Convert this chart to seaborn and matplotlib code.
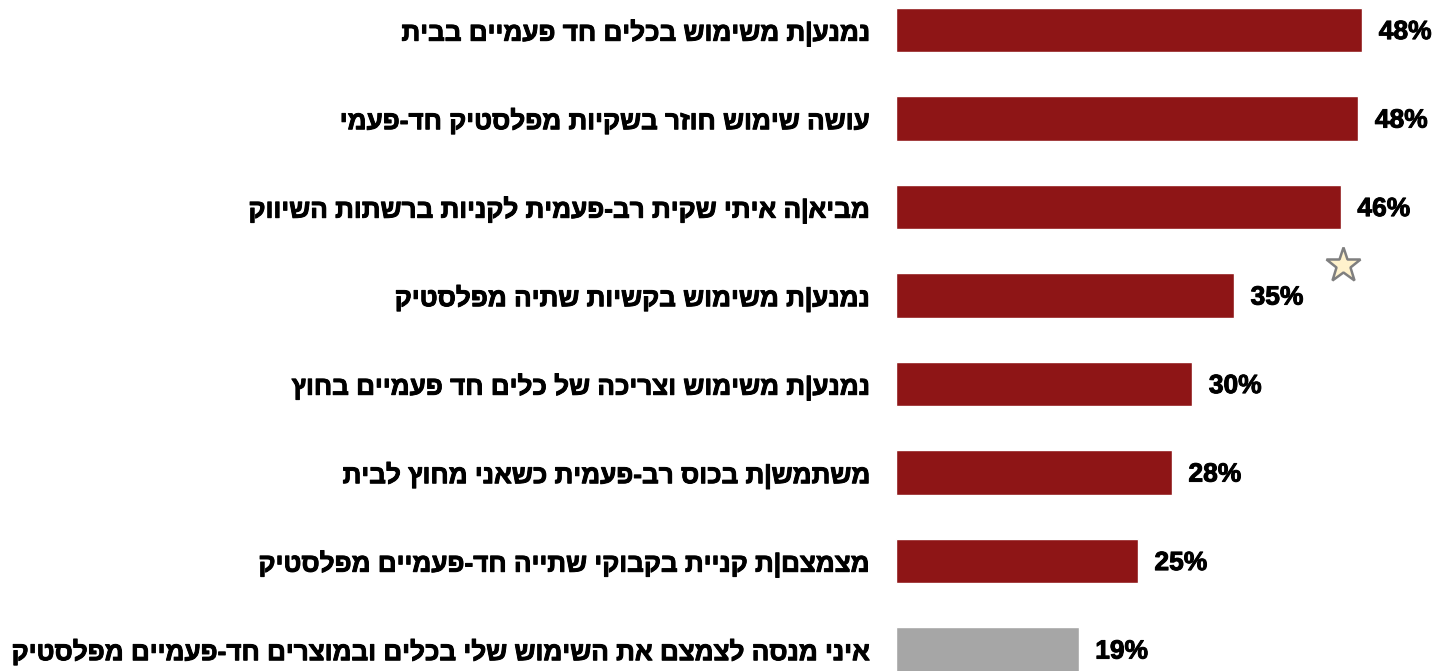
import matplotlib
matplotlib.use("Agg")
import matplotlib.pyplot as plt
import matplotlib.patheffects as pe
import seaborn as sns
import pandas as pd

categories = [
    "נמנע|ת משימוש בכלים חד פעמיים בבית",
    "עושה שימוש חוזר בשקיות מפלסטיק חד-פעמי",
    "מביא|ה איתי שקית רב-פעמית לקניות ברשתות השיווק",
    "נמנע|ת משימוש בקשיות שתיה מפלסטיק",
    "נמנע|ת משימוש וצריכה של כלים חד פעמיים בחוץ",
    "משתמש|ת בכוס רב-פעמית כשאני מחוץ לבית",
    "מצמצם|ת קניית בקבוקי שתייה חד-פעמיים מפלסטיק",
    "איני מנסה לצמצם את השימוש שלי בכלים ובמוצרים חד-פעמיים מפלסטיק",
]
values = [48.0, 47.6, 45.8, 34.8, 30.5, 28.4, 24.9, 18.8]
value_labels = ["48%", "48%", "46%", "35%", "30%", "28%", "25%", "19%"]
groups = ["act", "act", "act", "act", "act", "act", "act", "none"]
star_value = 46.0
star_position = 2.66

RED = "#8E1516"
GRAY = "#A6A6A6"


def rtl(s):
    # matplotlib lays text out left-to-right; reverse for visual RTL order
    return s[::-1]


sns.set_theme(style="white")
plt.rcParams["font.family"] = ["Liberation Sans", "DejaVu Sans"]

W, H, DPI = 1447, 671, 100
fig = plt.figure(figsize=(W / DPI, H / DPI), dpi=DPI)
ax = fig.add_axes([896 / W, 0, (1440 - 896) / W, 1])

df = pd.DataFrame({"cat": categories, "val": values, "grp": groups})
sns.barplot(data=df, x="val", y="cat", hue="grp", palette={"act": RED, "none": GRAY},
            width=0.5, dodge=False, legend=False, ax=ax, orient="h", saturation=1)

ax.set_xlim(0, (1440 - 896) / 9.71)
ax.set_ylim(7.243, -0.339)
ax.set_xlabel("")
ax.set_ylabel("")
ax.set_xticks([])
ax.set_yticks(range(len(categories)))
thick = [pe.withStroke(linewidth=0.7, foreground="#000000")]
ax.set_yticklabels([rtl(c) for c in categories], fontsize=18.8, fontweight="bold",
                   color="#000000")
for t in ax.get_yticklabels():
    t.set_path_effects(thick)
ax.tick_params(axis="y", length=0, pad=19)
for sp in ax.spines.values():
    sp.set_visible(False)

for i, (v, lab) in enumerate(zip(values, value_labels)):
    ax.annotate(lab, xy=(v, i), xytext=(12, -1.5), textcoords="offset points",
                ha="left", va="center", fontsize=19, fontweight="bold", color="#000000",
                path_effects=thick)

ax.plot([star_value], [star_position], marker="*", markersize=26,
        markerfacecolor="#FFF2CC", markeredgecolor="#7F7F7F", markeredgewidth=1.8,
        linestyle="none", clip_on=False)

fig.savefig("out.png", dpi=DPI)
